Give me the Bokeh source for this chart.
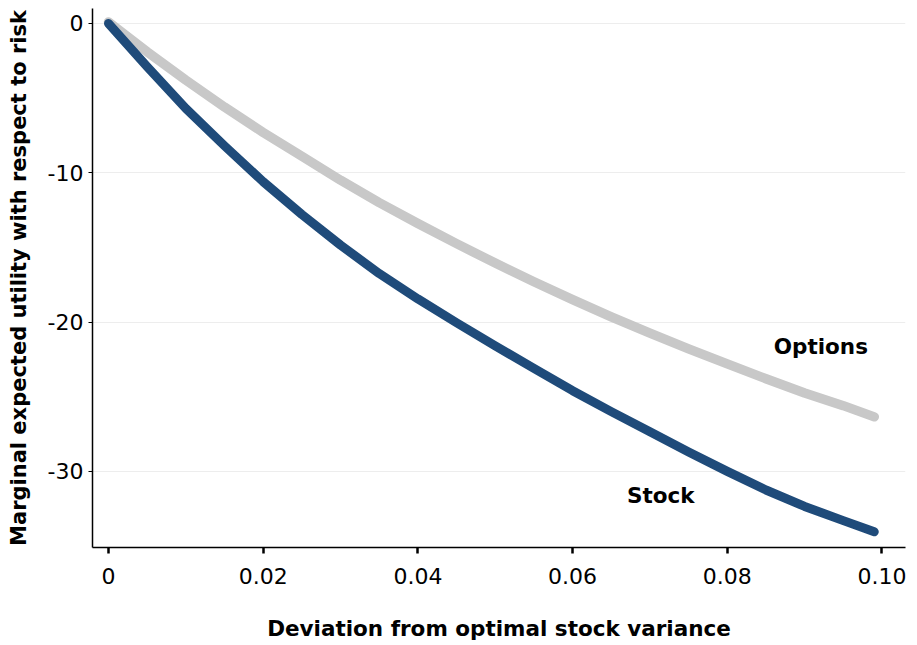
from bokeh.plotting import figure
from bokeh.embed import file_html
from bokeh.resources import INLINE
from bokeh.models import Range1d, FixedTicker
from bokeh.core.properties import value

# Data
x_vals = [0.0, 0.005, 0.010, 0.015, 0.020, 0.025, 0.030, 0.035, 0.040, 0.045, 0.050,
          0.055, 0.060, 0.065, 0.070, 0.075, 0.080, 0.085, 0.090, 0.095, 0.099]
stock = [0.0, -2.9, -5.7, -8.2, -10.6, -12.8, -14.85, -16.75, -18.45, -20.05, -21.6,
         -23.1, -24.6, -26.0, -27.35, -28.7, -30.0, -31.25, -32.35, -33.3, -34.05]
options = [0.1, -1.9, -3.8, -5.6, -7.3, -8.9, -10.5, -12.0, -13.4, -14.75, -16.05,
           -17.3, -18.5, -19.65, -20.75, -21.8, -22.8, -23.8, -24.75, -25.6, -26.35]

x_ticks = [0, 0.02, 0.04, 0.06, 0.08, 0.10]
x_tick_labels = ["0", "0.02", "0.04", "0.06", "0.08", "0.10"]
y_ticks = [0, -10, -20, -30]
y_tick_labels = ["0", "-10", "-20", "-30"]

label_names = ["Options", "Stock"]
label_x = [0.0921, 0.0714]
label_y = [-21.65, -31.6]

FONT = "DejaVu Sans"

p = figure(width=917, height=645, output_backend="svg", toolbar_location=None,
           x_range=Range1d(-0.00207, 0.10304), y_range=Range1d(-35.1, 1.0),
           min_border_left=92, min_border_right=12, min_border_top=8, min_border_bottom=98)
p.outline_line_color = None
p.background_fill_color = "white"
p.border_fill_color = "white"

p.line(x_vals, options, line_color="#c8c8c8", line_width=9.5, line_cap="round", line_join="round")
p.line(x_vals, stock, line_color="#1f4b7a", line_width=9, line_cap="round", line_join="round")

p.text(x=label_x, y=label_y, text=label_names, text_font=value(FONT), text_font_style="bold",
       text_font_size="21.5px", text_align="center", text_baseline="middle", text_color="black")

p.xgrid.grid_line_color = None
p.ygrid.grid_line_color = "#ededed"
p.ygrid.ticker = FixedTicker(ticks=y_ticks)

p.xaxis.ticker = FixedTicker(ticks=x_ticks)
p.xaxis.major_label_overrides = {t: l for t, l in zip(x_ticks, x_tick_labels)}
p.yaxis.ticker = FixedTicker(ticks=y_ticks)
p.yaxis.major_label_overrides = {t: l for t, l in zip(y_ticks, y_tick_labels)}

for ax in (p.xaxis, p.yaxis):
    ax.axis_line_color = "black"
    ax.axis_line_width = 1.5
    ax.major_tick_line_color = "black"
    ax.minor_tick_line_color = None
    ax.major_tick_in = 0
    ax.major_label_text_font = FONT
    ax.major_label_text_font_size = "22px"
    ax.major_label_text_color = "black"
    ax.axis_label_text_font = FONT
    ax.axis_label_text_font_style = "bold"
    ax.axis_label_text_color = "black"

p.xaxis.major_tick_out = 6
p.xaxis.major_tick_line_width = 2.5
p.xaxis.major_label_standoff = 14
p.xaxis.axis_label = "Deviation from optimal stock variance"
p.xaxis.axis_label_text_font_size = "21.5px"
p.xaxis.axis_label_standoff = 29

p.yaxis.major_tick_out = 4
p.yaxis.major_tick_line_width = 1
p.yaxis.major_label_standoff = 5
p.yaxis.axis_label = "Marginal expected utility with respect to risk"
p.yaxis.axis_label_text_font_size = "21px"
p.yaxis.axis_label_standoff = 14

open("out.html", "w").write(file_html(p, INLINE))
